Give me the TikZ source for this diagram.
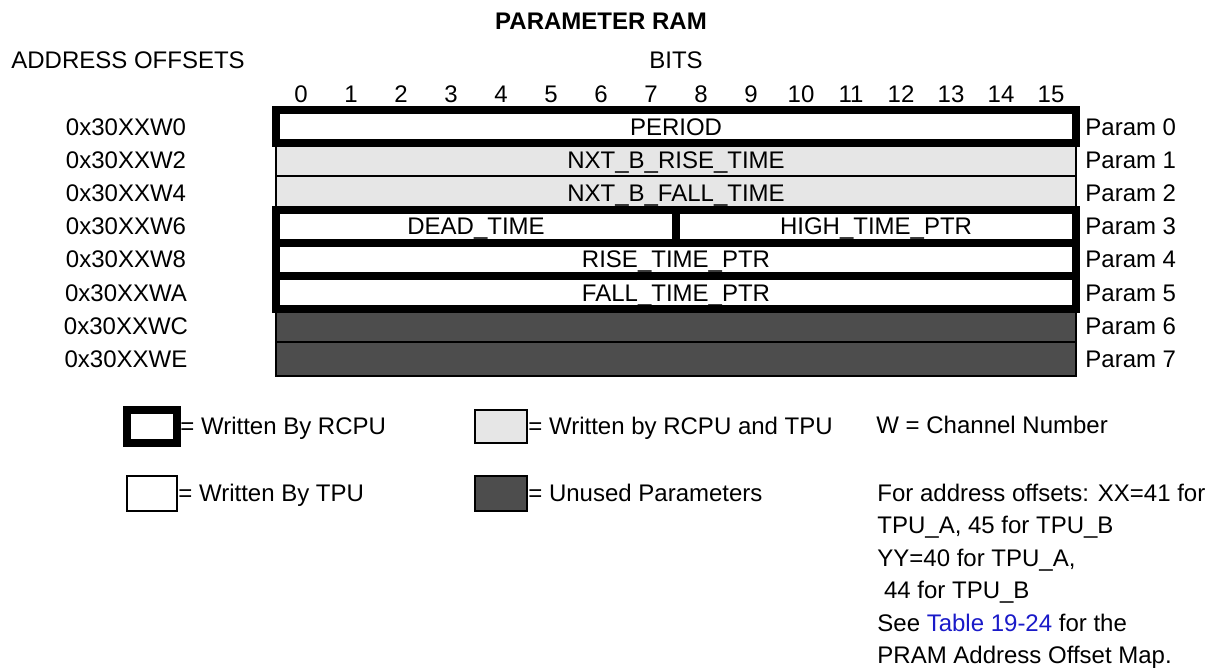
\documentclass[tikz,border=0pt]{standalone}
\usepackage{fontspec}
\setmainfont{Liberation Sans}
\usepackage{xcolor}
\usepackage{tikz}
\usetikzlibrary{positioning}
\definecolor{rcputpu}{HTML}{E6E6E6}
\definecolor{unused}{HTML}{4D4D4D}
\definecolor{linkblue}{HTML}{1A1AC8}

\begin{document}
\begin{tikzpicture}[x=0.5pt,y=-0.5pt,
  txt/.style={font=\fontsize{12}{14}\selectfont,inner sep=0pt},
  rcpu/.style={line width=4pt},
  tpu/.style={line width=1pt}]
  \useasboundingbox (0,0) rectangle (1214,669);
  % headings
  \node[txt,font=\bfseries\fontsize{12}{14}\selectfont,anchor=base] (title) at (601,29){PARAMETER RAM};
  \node[txt,anchor=base west] (addrhead) at (11,68){ADDRESS OFFSETS};
  \node[txt,anchor=base] (bitshead) at (676,68){BITS};
  \foreach \b in {0,...,15}
    \node[txt,anchor=base] (bit\b) at ({301+50*\b},102){\b};
  % rows written by rcpu and tpu
  \draw[tpu,fill=rcputpu] (276,143.2) rectangle (1076,176.4);
  \draw[tpu,fill=rcputpu] (276,176.4) rectangle (1076,209.6);
  % unused rows
  \draw[tpu,fill=unused] (276,309.2) rectangle (1076,342.4);
  \draw[tpu,fill=unused] (276,342.4) rectangle (1076,375.6);
  % rows written by rcpu
  \draw[rcpu] (276,110) rectangle (1076,143.2);
  \draw[rcpu] (276,209.6) rectangle (1076,242.8);
  \draw[rcpu] (276,242.8) rectangle (1076,276);
  \draw[rcpu] (276,276) rectangle (1076,309.2);
  \draw[rcpu] (676,209.6) -- (676,242.8);
  % field names
  \node[txt,anchor=base] (period) at (676,135){PERIOD};
  \node[txt,anchor=base] (nxtrise) at (676,168.2){NXT\_B\_RISE\_TIME};
  \node[txt,anchor=base] (nxtfall) at (676,201.4){NXT\_B\_FALL\_TIME};
  \node[txt,anchor=base] (deadtime) at (476,234.6){DEAD\_TIME};
  \node[txt,anchor=base] (hightime) at (876,234.6){HIGH\_TIME\_PTR};
  \node[txt,anchor=base] (riseptr) at (676,267.8){RISE\_TIME\_PTR};
  \node[txt,anchor=base] (fallptr) at (676,301){FALL\_TIME\_PTR};
  % offsets and parameter numbers
  \foreach \i/\a in {0/0,1/2,2/4,3/6,4/8,5/A,6/C,7/E}{
    \node[txt,anchor=base] (addr\i) at (126,{135+33.2*\i}){0x30XXW\a};
    \node[txt,anchor=base west] (par\i) at (1085,{135+33.2*\i}){Param \i};
  }
  % key
  \draw[rcpu] (127,410) rectangle (177,443);
  \node[txt,anchor=base west] (keyrcpu) at (180,434){= Written By RCPU};
  \draw[tpu,fill=rcputpu] (475,410) rectangle (527,443);
  \node[txt,anchor=base west] (keyboth) at (528,434){= Written by RCPU and TPU};
  \draw[tpu] (127,476) rectangle (177,511);
  \node[txt,anchor=base west] (keytpu) at (178,501){= Written By TPU};
  \draw[tpu,fill=unused] (475,476) rectangle (527,511);
  \node[txt,anchor=base west] (keyunused) at (528,501){= Unused Parameters};
  % notes
  \node[txt,anchor=base west] (chan) at (876,433){W = Channel Number};
  \node[txt,anchor=base west] (note1) at (877,501){For address offsets: XX=41 for};
  \node[txt,anchor=base west] (note2) at (877,533.5){TPU\_A, 45 for TPU\_B};
  \node[txt,anchor=base west] (note3) at (877,566){YY=40 for TPU\_A,};
  \node[txt,anchor=base west] (note4) at (877,598.5){\ 44 for TPU\_B};
  \node[txt,anchor=base west] (note5) at (877,631){See \textcolor{linkblue}{Table 19-24} for the};
  \node[txt,anchor=base west] (note6) at (877,663.5){PRAM Address Offset Map.};
\end{tikzpicture}
\end{document}
